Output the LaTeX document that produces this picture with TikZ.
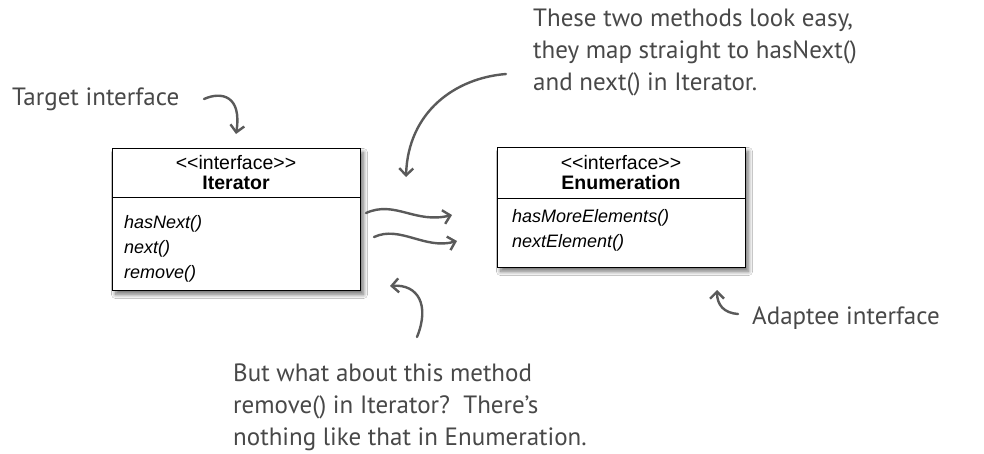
\documentclass[tikz,border=0pt]{standalone}
\usepackage{fontspec}
\setmainfont{Liberation Sans}
\newfontfamily\boxfont{Liberation Sans}
\newfontfamily\handfont{PT Sans}
\usetikzlibrary{arrows.meta,shadows.blur}
\definecolor{ink}{HTML}{484848}
\tikzset{
  umlbox/.style={draw=black, line width=1pt, fill=white, anchor=north west,
    blur shadow={shadow xshift=3pt, shadow yshift=-4pt, shadow blur steps=10, shadow blur radius=4pt, shadow opacity=55}},
  hdr/.style={font=\boxfont\fontsize{19.5}{21}\selectfont, inner sep=0pt, anchor=base},
  hdrb/.style={font=\boxfont\bfseries\fontsize{19.5}{21}\selectfont, inner sep=0pt, anchor=base},
  meth/.style={font=\boxfont\itshape\fontsize{18}{25}\selectfont, inner sep=0pt, anchor=north west, align=left},
  hand/.style={font=\handfont\fontsize{25}{32}\selectfont, text=ink, inner sep=0pt, align=left},
  sketch/.style={draw=ink!90, line width=2.4pt, line cap=round, line join=round,
    -{Straight Barb[length=7pt,width=14pt,line width=2.4pt]}},
}
\begin{document}
\begin{tikzpicture}[x=1pt,y=-1pt]
\useasboundingbox[fill=white] (0,0) rectangle (984,453);

% Iterator box
\node[umlbox, minimum width=248pt, minimum height=142pt] (it) at (112,148) {};
\draw[line width=1pt] (112,197) -- (360,197);
\node[hdr] (itst) at (236,169) {<\kern0pt<interface>\kern0pt>};
\node[hdrb] (itnm) at (236,189) {Iterator};
\node[meth] (itm) at (124,215) {hasNext()\\next()\\remove()};

% Enumeration box
\node[umlbox, minimum width=248pt, minimum height=120pt] (en) at (497,147) {};
\draw[line width=1pt] (497,198) -- (745,198);
\node[hdr] (enst) at (621,169) {<\kern0pt<interface>\kern0pt>};
\node[hdrb] (ennm) at (621,189) {Enumeration};
\node[meth] (enm) at (512,209) {hasMoreElements()\\nextElement()};

% annotations
\node[hand, anchor=base west] (tgt) at (12,105) {Target interface};
\node[hand, anchor=north west] (top) at (533,9) {These two methods look easy,\\they map straight to hasNext()\\and next() in Iterator.};
\node[hand, anchor=north west] (bot) at (233,364) {But what about this method\\remove() in Iterator?\ \ There’s\\nothing like that in Enumeration.};
\node[hand, anchor=base west] (adp) at (752,324) {Adaptee interface};

% arrows
\coordinate (a1s) at (204,99);
\coordinate (a1e) at (236,134);
\draw[sketch] (a1s) .. controls (222,91) and (242,96) .. (a1e);

\coordinate (a2s) at (506,74);
\coordinate (a2e) at (406,177);
\draw[sketch] (a2s) .. controls (455,78) and (408,112) .. (a2e);

\coordinate (w1s) at (366,213);
\coordinate (w1e) at (452,215);
\draw[sketch] (w1s) .. controls (395,200) and (415,224) .. (w1e);
\coordinate (w2s) at (374,237);
\coordinate (w2e) at (457,241);
\draw[sketch] (w2s) .. controls (400,225) and (425,250) .. (w2e);

\coordinate (b1s) at (417,337);
\coordinate (b1e) at (390,286);
\draw[sketch] (b1s) .. controls (430,305) and (418,284) .. (b1e);

\coordinate (d1s) at (738,314);
\coordinate (d1e) at (717,290);
\draw[sketch] (d1s) .. controls (724,313) and (717,305) .. (d1e);
\end{tikzpicture}
\end{document}
